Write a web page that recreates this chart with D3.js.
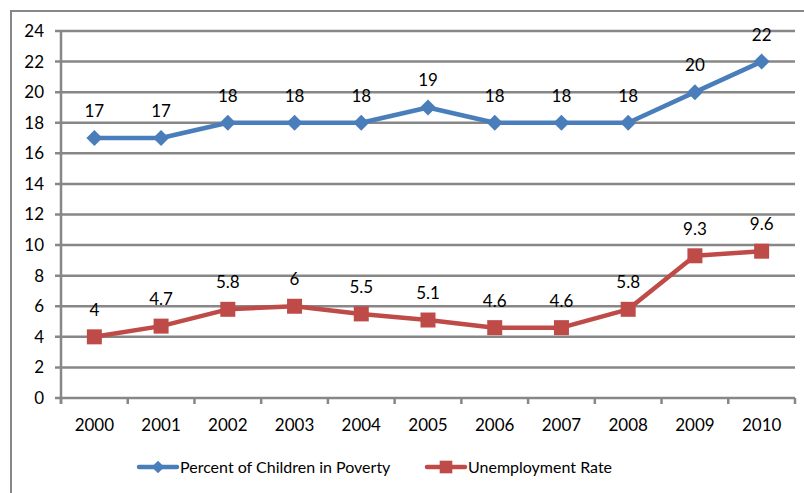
<!DOCTYPE html>
<html>
<head>
<meta charset="utf-8">
<script src="https://cdn.jsdelivr.net/npm/d3@7"></script>
<style>
  body { margin: 0; background: #fff; }
  text { font-family: Lato, "Open Sans", sans-serif; fill: #000; }
</style>
</head>
<body>
<svg id="chart" width="804" height="493"></svg>
<script>
const years = ["2000","2001","2002","2003","2004","2005","2006","2007","2008","2009","2010"];
const poverty = [17, 17, 18, 18, 18, 19, 18, 18, 18, 20, 22];
const unemployment = [4, 4.7, 5.8, 6, 5.5, 5.1, 4.6, 4.6, 5.8, 9.3, 9.6];
const yTicks = [0, 2, 4, 6, 8, 10, 12, 14, 16, 18, 20, 22, 24];

const svg = d3.select("#chart");
const margin = {left: 61, top: 31, right: 9, bottom: 95};
const W = 804, H = 493;
const gridColor = "#878787";

// square diamond (same width and height), like the spreadsheet marker
const diamond = {
  draw(ctx, size) {
    const r = Math.sqrt(size / 2);
    ctx.moveTo(0, -r); ctx.lineTo(r, 0); ctx.lineTo(0, r); ctx.lineTo(-r, 0); ctx.closePath();
  }
};

// outer frame
svg.append("rect")
  .attr("x", 11).attr("y", 11)
  .attr("width", 810).attr("height", 500)
  .attr("fill", "none").attr("stroke", gridColor).attr("stroke-width", 2);

const x = d3.scaleBand().domain(years)
  .range([margin.left, W - margin.right]);
const y = d3.scaleLinear().domain([0, 24])
  .range([H - margin.bottom, margin.top]);

// gridlines
svg.append("g").selectAll("line").data(yTicks).join("line")
  .attr("x1", margin.left - 6).attr("x2", W - margin.right)
  .attr("y1", d => y(d)).attr("y2", d => y(d))
  .attr("stroke", gridColor).attr("stroke-width", 2.5);

// y axis line
svg.append("line")
  .attr("x1", margin.left).attr("x2", margin.left)
  .attr("y1", y(24)).attr("y2", y(0) + 6)
  .attr("stroke", gridColor).attr("stroke-width", 2.5);

// x ticks between categories
const bounds = years.map(d => x(d) + x.bandwidth()).concat([margin.left]);
svg.append("g").selectAll("line").data(bounds).join("line")
  .attr("x1", d => d).attr("x2", d => d)
  .attr("y1", y(0)).attr("y2", y(0) + 6)
  .attr("stroke", gridColor).attr("stroke-width", 2.5);

// y labels
svg.append("g").selectAll("text").data(yTicks).join("text")
  .attr("x", 44).attr("y", d => y(d))
  .attr("dy", "0.35em").attr("text-anchor", "end")
  .attr("font-size", 17).text(d => d);

// x labels
svg.append("g").selectAll("text").data(years).join("text")
  .attr("x", d => x(d) + x.bandwidth() / 2).attr("y", y(0) + 27)
  .attr("dy", "0.35em").attr("text-anchor", "middle")
  .attr("font-size", 17).text(d => d);

const cx = (d, i) => x(years[i]) + x.bandwidth() / 2;
const line = d3.line().x(cx).y(d => y(d));

const series = [
  {name: "Percent of Children in Poverty", values: poverty, color: "#4a7ebb", marker: diamond, size: 128, lsize: 80},
  {name: "Unemployment Rate", values: unemployment, color: "#be4b48", marker: d3.symbolSquare, size: 225, lsize: 160}
];

series.forEach(s => {
  const g = svg.append("g");
  g.append("path").datum(s.values)
    .attr("d", line).attr("fill", "none")
    .attr("stroke", s.color).attr("stroke-width", 4.5)
    .attr("stroke-linejoin", "round");
  g.selectAll("path.m").data(s.values).join("path")
    .attr("class", "m")
    .attr("transform", (d, i) => `translate(${cx(d, i)},${y(d)})`)
    .attr("d", d3.symbol().type(s.marker).size(s.size))
    .attr("fill", s.color);
  g.selectAll("text").data(s.values).join("text")
    .attr("x", cx).attr("y", d => y(d) - 27)
    .attr("dy", "0.35em").attr("text-anchor", "middle")
    .attr("font-size", 17).text(d => d);
});

// legend
const legendY = 467;
const legendX = [139, 427];
series.forEach((s, i) => {
  const lg = svg.append("g").attr("transform", `translate(${legendX[i]},${legendY})`);
  lg.append("line").attr("x1", 0).attr("x2", 38)
    .attr("stroke", s.color).attr("stroke-width", 4.5).attr("stroke-linecap", "round");
  lg.append("path").attr("transform", "translate(19,0)")
    .attr("d", d3.symbol().type(s.marker).size(s.lsize))
    .attr("fill", s.color);
  lg.append("text").attr("x", 41).attr("dy", "0.35em")
    .attr("font-size", 16).text(s.name);
});
</script>
</body>
</html>
